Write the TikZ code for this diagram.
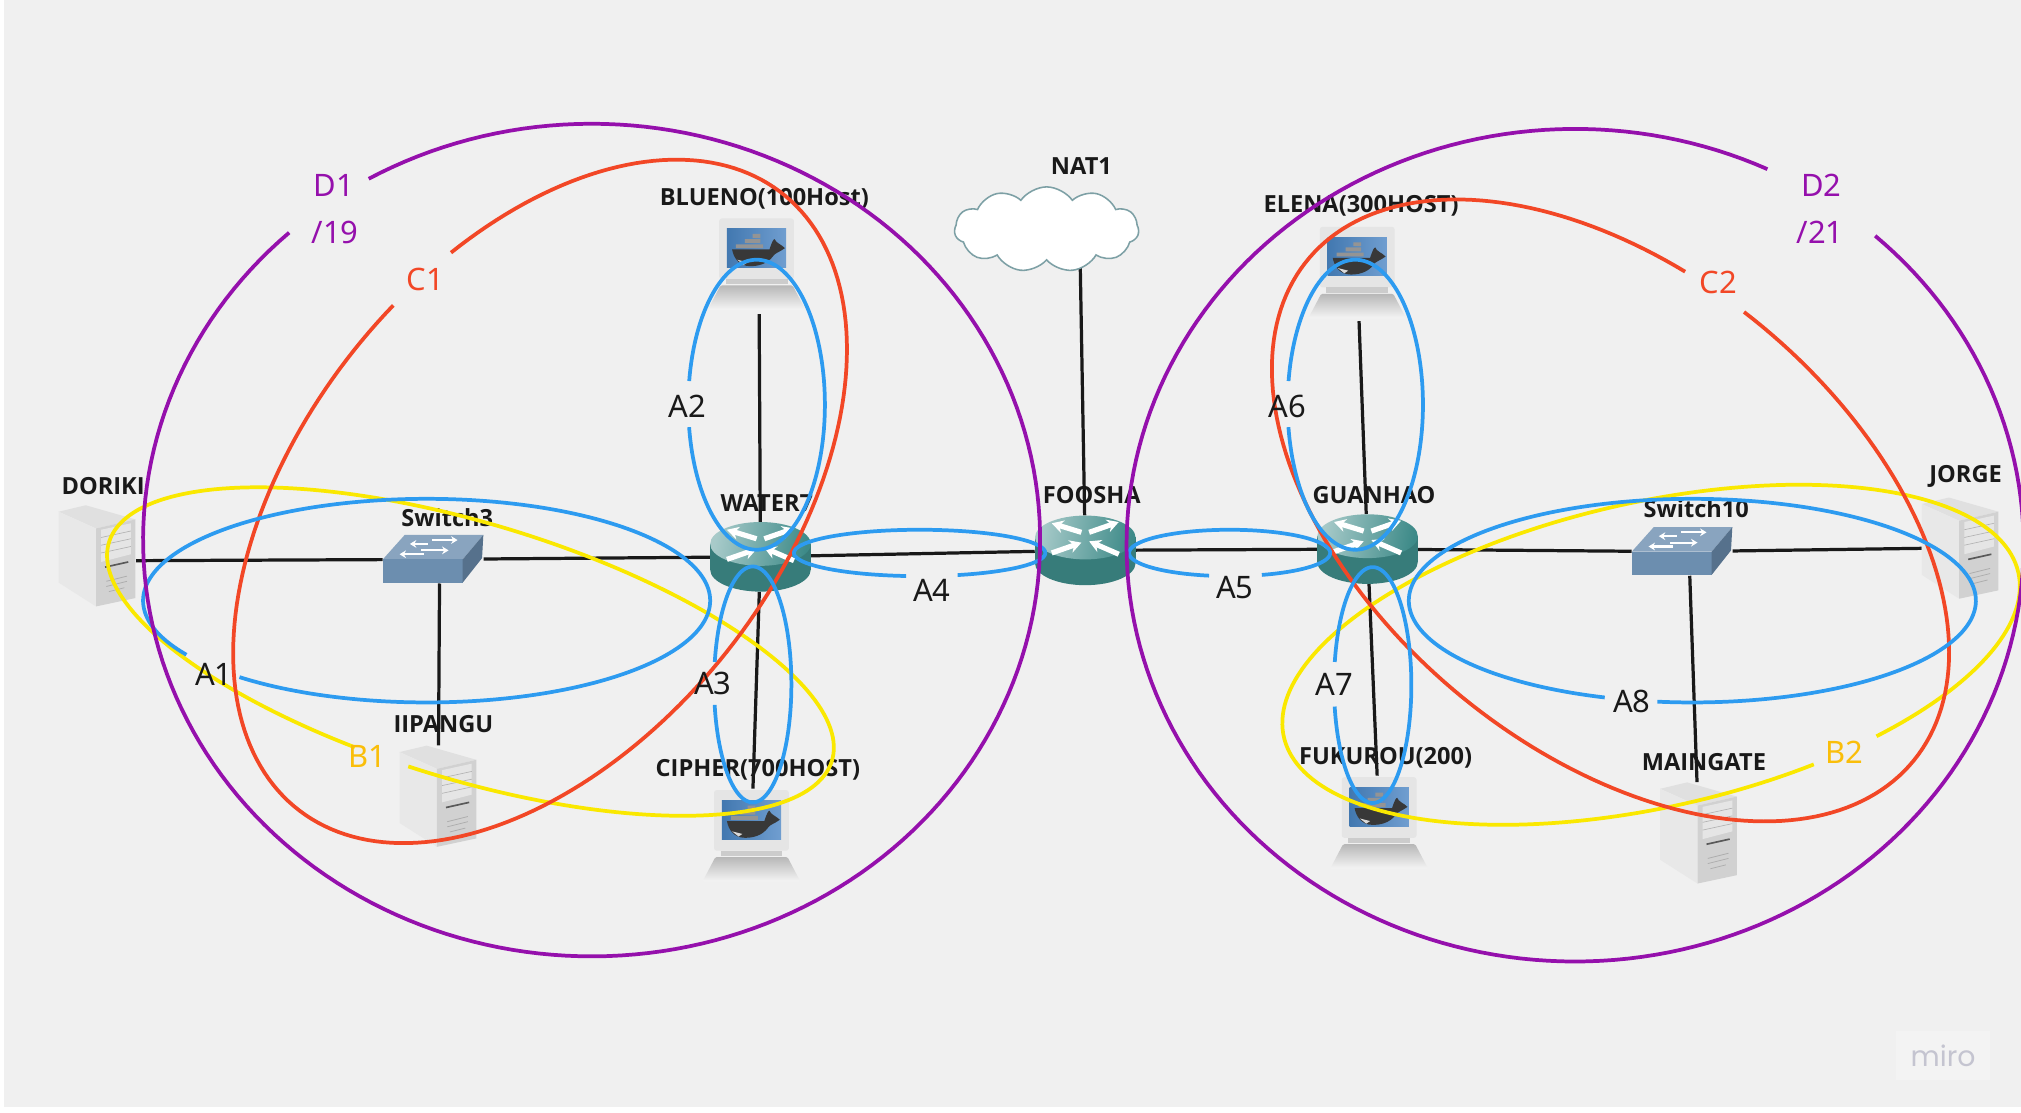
\documentclass[tikz,border=0pt]{standalone}
\usepackage{fontspec}
\setmainfont{Noto Sans}
\newfontfamily\devfont{Open Sans}
\newfontfamily\markfont{Poppins}
\usetikzlibrary{arrows.meta,shapes.symbols,backgrounds}
\definecolor{canvasgrey}{RGB}{240,240,240}
\definecolor{markpatch}{RGB}{243,243,243}
\definecolor{zoneblue}{RGB}{45,155,240}
\definecolor{zoneyellow}{RGB}{250,232,0}
\definecolor{zonered}{RGB}{242,71,38}
\definecolor{zonepurple}{RGB}{149,16,172}
\definecolor{labelamber}{RGB}{250,190,10}
\definecolor{routerteal}{RGB}{61,138,136}
\definecolor{switchblue}{RGB}{108,142,175}
\definecolor{cloudedge}{RGB}{125,160,165}
\definecolor{screenlow}{RGB}{66,120,176}
\definecolor{screenhigh}{RGB}{112,158,208}
\definecolor{markgrey}{RGB}{196,196,208}

% one arc of a (turned) ellipse: style, centre x, y, radii, turn, from, to
\newcommand{\zonearc}[8]{\draw[#1] plot[domain=#7:#8, samples=200]
  ({#2+#4*cos(\x)*cos(#6)-#5*sin(\x)*sin(#6)},{#3+#4*cos(\x)*sin(#6)+#5*sin(\x)*cos(#6)});}

\tikzset{
  wire/.style={black!90, line width=2.5pt},
  devbox/.style={rectangle, inner sep=0pt, minimum width=#1},
  devlabel/.style={font=\fontsize{18.3}{21}\selectfont\devfont\bfseries, text=black!90, inner sep=0pt},
  zonelabel/.style={font=\fontsize{24}{28}\selectfont, inner sep=0pt},
  zoneA/.style={zoneblue, line width=2.9pt},
  zoneB/.style={zoneyellow, line width=2.9pt},
  zoneC/.style={zonered, line width=2.9pt},
  zoneD/.style={zonepurple, line width=2.9pt},
  pics/servericon/.style={code={
    \fill[black!12] (-30,-34) -- (-9,-39) -- (29.5,-28) -- (-1,-21) -- cycle;
    \fill[black!9] (-30,-34) -- (-1,-21) -- (-1,39.5) -- (-30,21) -- cycle;
    \fill[black!18] (-1,-21) -- (29.5,-28) -- (29.5,33) -- (-1,39.5) -- cycle;
    \fill[black!10] (3,-20) -- (26,-25) -- (26,-1) -- (3,5) -- cycle;
    \draw[black!30, line width=.5pt] (3,-14) -- (26,-19) (3,-8) -- (26,-13) (3,-2) -- (26,-7);
    \draw[black!65, line width=1.3pt] (6,9) -- (24,5);
    \draw[black!32, line width=.6pt] (7,20) -- (23,16) (7,24) -- (23,20) (9,28) -- (21,25);
  }},
  pics/routericon/.style={code={
    \fill[routerteal!90!black] (-39,-10) rectangle (39,10);
    \fill[routerteal!90!black] (0,10) ellipse [x radius=39, y radius=17];
    \shade[left color=routerteal!45!white, right color=routerteal, shading angle=80] (0,-10) ellipse [x radius=39, y radius=17];
    \draw[white, line width=4pt, -{Stealth[length=9pt,width=10pt]}] (-3,-14) -- (-26,-21);
    \draw[white, line width=4pt, -{Stealth[length=9pt,width=10pt]}] (3,-14) -- (26,-22);
    \draw[white, line width=4pt, -{Stealth[length=9pt,width=10pt]}] (-26,2) -- (-3,-6);
    \draw[white, line width=4pt, -{Stealth[length=9pt,width=10pt]}] (26,3) -- (3,-7);
  }},
  pics/switchicon/.style={code={
    \fill[switchblue!80!white] (-39,0) -- (-22,-19) -- (39,-19) -- (23,0) -- cycle;
    \fill[switchblue] (-39,0) rectangle (23,18);
    \fill[switchblue!80!black] (23,0) -- (39,-19) -- (38,-1) -- (23,18) -- cycle;
    \draw[white, line width=1.6pt, {Stealth[length=5pt,width=6pt]}-] (-18,-12) -- (-4,-12);
    \draw[white, line width=1.6pt, -{Stealth[length=5pt,width=6pt]}] (-1,-15) -- (19,-15);
    \draw[white, line width=1.6pt, {Stealth[length=5pt,width=6pt]}-] (-26,-4) -- (-7,-4);
    \draw[white, line width=1.6pt, -{Stealth[length=5pt,width=6pt]}] (-9,-7) -- (12,-7);
  }},
  pics/dockericon/.style={code={
    \fill[black!10, rounded corners=2pt] (-29,-35) rectangle (29,12);
    \fill[black!20] (-24,12) rectangle (24,16);
    \shade[top color=black!28, bottom color=black!4, rounded corners=1pt] (-28,17) -- (28,17) -- (38,36) -- (-38,36) -- cycle;
    \shade[left color=screenlow, right color=screenhigh] (-23,-27) rectangle (23,3);
    \fill[black!78] (-19,-11) -- (10,-11) .. controls (12,-17) and (13,-19) .. (14,-19) .. controls (15,-16) and (19,-15) .. (22,-12) .. controls (18,-9) and (14,-8) .. (13,-6) .. controls (8,1) and (0,2) .. (-5,2) .. controls (-14,2) and (-18,-5) .. (-19,-11) -- cycle;
    \fill[white!85!black] (-15,-3) -- (-7,-1) -- (-10,1) -- cycle;
    \fill[black!42] (-16,-15) rectangle (5,-12) (-9,-19) rectangle (3,-16) (-3,-23) rectangle (3,-20);
  }},
}

\begin{document}
\begin{tikzpicture}[x=1pt, y=-1pt]
\useasboundingbox (0,0) rectangle (1568,862.75);
\clip (0,0) rectangle (1568,862.75);
\begin{scope}[on background layer]
  \fill[white] (0,0) rectangle (1568,862.75);
  \fill[canvasgrey] (3,0) rectangle (1568,859);
\end{scope}

% Devices, left side
\node[devbox=60, minimum height=78] (doriki) at (75.5,431) {};
\pic at (doriki) {servericon};
\node[devbox=78, minimum height=37] (switch3) at (336,434) {};
\pic at (switch3) {switchicon};
\node[devbox=60, minimum height=78] (iipangu) at (340,617.5) {};
\pic at (iipangu) {servericon};
\node[devbox=76, minimum height=78] (blueno) at (587,204.5) {};
\pic at (blueno) {dockericon};
\node[devbox=78, minimum height=54] (water7) at (590,432) {};
\pic at (water7) {routericon};
\node[devbox=76, minimum height=72] (cipher) at (583,648) {};
\pic at (cipher) {dockericon};

% Middle
\node[cloud, cloud puffs=11, cloud puff arc=110, aspect=2.4, draw=cloudedge, fill=white, line width=1.2pt,
      inner sep=0pt, minimum width=143, minimum height=66] (nat1) at (812,178) {};
\coordinate (nat1port) at (838,200);
\node[devbox=78, minimum height=54] (foosha) at (842,427) {};
\pic at (foosha) {routericon};

% Devices, right side
\node[devbox=76, minimum height=76] (elena) at (1053,211) {};
\pic at (elena) {dockericon};
\node[devbox=78, minimum height=54] (guanhao) at (1061,426) {};
\pic at (guanhao) {routericon};
\node[devbox=76, minimum height=72] (fukurou) at (1070,638) {};
\pic at (fukurou) {dockericon};
\node[devbox=78, minimum height=37] (switch10) at (1305,428) {};
\pic at (switch10) {switchicon};
\node[devbox=60, minimum height=78] (jorge) at (1521,425) {};
\pic at (jorge) {servericon};
\node[devbox=60, minimum height=78] (maingate) at (1318,646) {};
\pic at (maingate) {servericon};

% Links sit behind the icons
\begin{scope}[on background layer]
  \draw[wire] ([yshift=-4pt]doriki.east) -- (switch3);
  \draw[wire] (switch3) -- (water7);
  \draw[wire] ([xshift=5pt]switch3.south) -- (iipangu);
  \draw[wire] ([xshift=2pt]blueno.south) -- (water7);
  \draw[wire] (water7) -- (cipher);
  \draw[wire] (water7) -- (foosha);
  \draw[wire] (nat1port) -- (foosha);
  \draw[wire] (foosha) -- (guanhao);
  \draw[wire] (elena) -- (guanhao);
  \draw[wire] (guanhao) -- (fukurou);
  \draw[wire] (guanhao) -- (switch10);
  \draw[wire] (switch10) -- (jorge);
  \draw[wire] ([xshift=6pt]switch10.south) -- (maingate);
\end{scope}

% Device names
\node[devlabel] (dorikiname) at (80,377) {DORIKI};
\node[devlabel] (switch3name) at (347,402) {Switch3};
\node[devlabel] (iipanguname) at (344,562) {IIPANGU};
\node[devlabel] (bluenoname) at (593,154) {BLUENO(100Host)};
\node[devlabel] (water7name) at (595,390) {WATER7};
\node[devlabel] (ciphername) at (588,597) {CIPHER(700HOST)};
\node[devlabel] (nat1name) at (839,129) {NAT1};
\node[devlabel] (fooshaname) at (847,384) {FOOSHA};
\node[devlabel] (elenaname) at (1056,160) {ELENA(300HOST)};
\node[devlabel] (guanhaoname) at (1066,384) {GUANHAO};
\node[devlabel] (fukurouname) at (1075,588) {FUKUROU(200)};
\node[devlabel] (switch10name) at (1316,395) {Switch10};
\node[devlabel] (jorgename) at (1525,370) {JORGE};
\node[devlabel] (maingatename) at (1322,591) {MAINGATE};

% Yellow B zones
\zonearc{zoneB}{365}{505.5}{293}{99.5}{16.8}{102.7}{454}
\zonearc{zoneB}{1281}{508}{292}{118.4}{-12.6}{69}{417.5}
% Red C zones
\zonearc{zoneC}{419}{389}{304}{186}{-51.8}{-69}{279.3}
\zonearc{zoneC}{1249.5}{396}{305}{185}{39.7}{-93.5}{256}
% Blue A zones
\zonearc{zoneA}{331}{466}{220}{79}{0}{147.9}{491.3}
\zonearc{zoneA}{587}{314}{53}{112.5}{0}{189.4}{531.1}
\zonearc{zoneA}{584}{531}{30}{91.5}{0}{191}{530}
\zonearc{zoneA}{713.5}{429}{97.5}{18}{0}{96.2}{432.4}
\zonearc{zoneA}{954}{429}{78}{18}{0}{101.8}{431.3}
\zonearc{zoneA}{1051.5}{314}{52.5}{112.5}{0}{189.4}{531.1}
\zonearc{zoneA}{1065}{531.5}{30}{91.5}{0}{191.3}{529.5}
\zonearc{zoneA}{1313}{466}{220}{79}{0}{108}{457.1}
% Purple D zones
\zonearc{zoneD}{459}{419}{348}{323}{0}{240.2}{587.6}
\zonearc{zoneD}{1222}{423}{348}{323}{0}{-48}{295.4}

% Zone names
\node[zonelabel, text=black!90] (a1) at (166,523) {A1};
\node[zonelabel, text=black!90] (a2) at (533,315) {A2};
\node[zonelabel, text=black!90] (a3) at (553,530) {A3};
\node[zonelabel, text=black!90] (a4) at (723,458) {A4};
\node[zonelabel, text=black!90] (a5) at (958,456) {A5};
\node[zonelabel, text=black!90] (a6) at (999,315) {A6};
\node[zonelabel, text=black!90] (a7) at (1035,531) {A7};
\node[zonelabel, text=black!90] (a8) at (1266,544) {A8};
\node[zonelabel, text=labelamber] (b1) at (285,587) {B1};
\node[zonelabel, text=labelamber] (b2) at (1431,584) {B2};
\node[zonelabel, text=zonered] (c1) at (330,217) {C1};
\node[zonelabel, text=zonered] (c2) at (1333,219) {C2};
\node[zonelabel, text=zonepurple] (d1) at (259,144) {D1};
\node[zonelabel, text=zonepurple] (d1net) at (260,180) {/19};
\node[zonelabel, text=zonepurple] (d2) at (1413,144) {D2};
\node[zonelabel, text=zonepurple] (d2net) at (1412,180) {/21};

% Board mark
\node[fill=markpatch, minimum width=73, minimum height=38, inner sep=0pt] (markbox) at (1507.5,819) {};
\node[font=\fontsize{22}{26}\selectfont\markfont, text=markgrey, inner sep=0pt] (miro) at (markbox) {miro};
\end{tikzpicture}
\end{document}
